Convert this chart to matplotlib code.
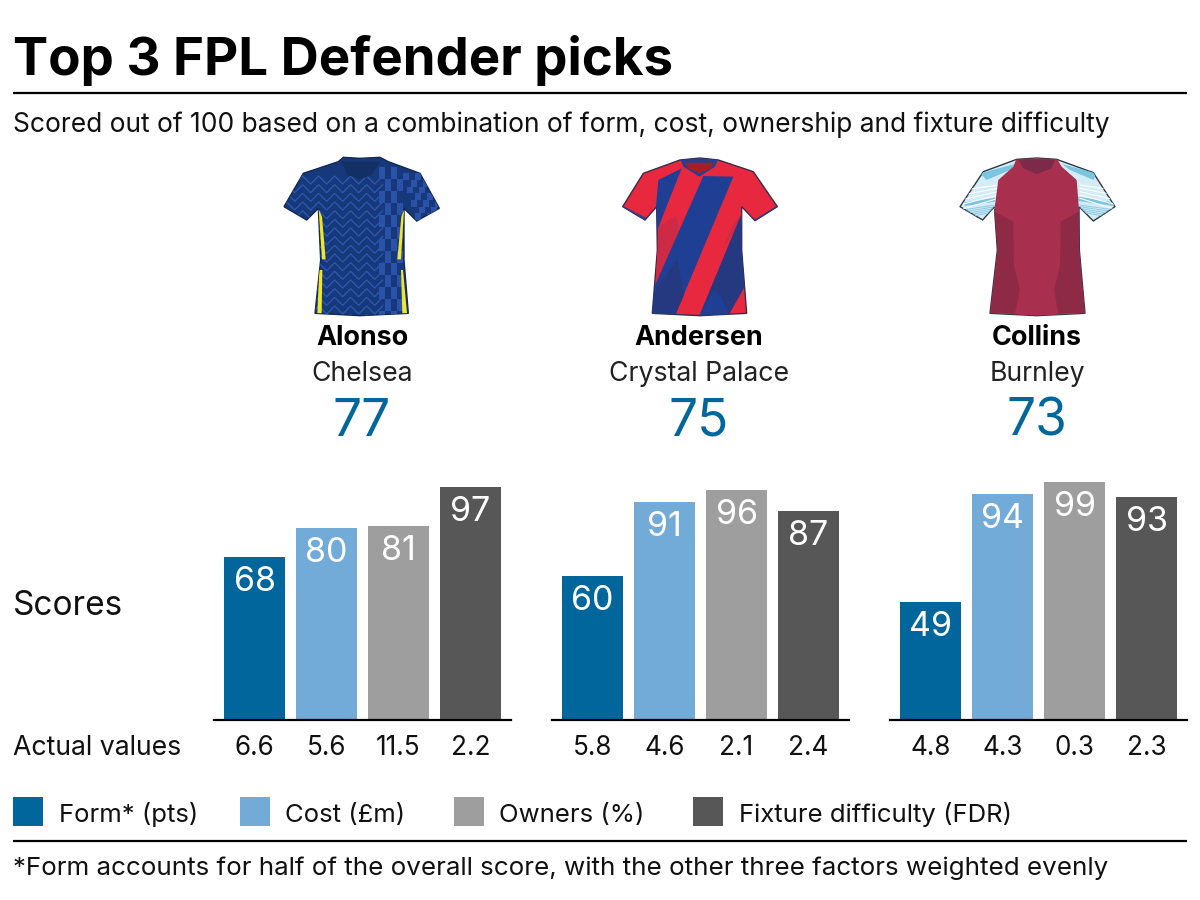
import matplotlib
matplotlib.use("Agg")
import matplotlib.pyplot as plt
from matplotlib.patches import Polygon, Rectangle

plt.rcParams['font.family'] = ['Inter', 'DejaVu Sans']

players = ["Alonso", "Andersen", "Collins"]
clubs = ["Chelsea", "Crystal Palace", "Burnley"]
totals = [77, 75, 73]
factors = ["Form* (pts)", "Cost (£m)", "Owners (%)", "Fixture difficulty (FDR)"]
alonso_scores = [68, 80, 81, 97]
andersen_scores = [60, 91, 96, 87]
collins_scores = [49, 94, 99, 93]
alonso_actual = ["6.6", "5.6", "11.5", "2.2"]
andersen_actual = ["5.8", "4.6", "2.1", "2.4"]
collins_actual = ["4.8", "4.3", "0.3", "2.3"]

colors = ["#00669c", "#73abd8", "#9e9e9e", "#575757"]
blue_text = "#00669c"

fig = plt.figure(figsize=(12, 9), dpi=100)

# overlay in pixel coords for text, rules, shirts
bg = fig.add_axes([0, 0, 1, 1])
bg.set_xlim(0, 1200)
bg.set_ylim(900, 0)
bg.axis('off')

bg.text(13, 75, "Top 3 FPL Defender picks", fontsize=38, fontweight='bold', color='black', va='baseline')
bg.plot([13, 1187], [93, 93], color='black', lw=1.6, solid_capstyle='butt')
bg.text(13, 132, "Scored out of 100 based on a combination of form, cost, ownership and fixture difficulty",
        fontsize=19, color='#111111', va='baseline')
bg.text(13, 615, "Scores", fontsize=24, color='#111111', va='baseline')
bg.text(13, 755, "Actual values", fontsize=19.2, color='#111111', va='baseline')
bg.plot([13, 1187], [841, 841], color='black', lw=1.6, solid_capstyle='butt')
bg.text(13, 875, "*Form accounts for half of the overall score, with the other three factors weighted evenly",
        fontsize=18.7, color='#111111', va='baseline')


def to_px(ox, pts):
    return [(ox + x / 3, 150 + y / 3) for x, y in pts]


def clipped(ox, pts, color, clip, z=3):
    p = Polygon(to_px(ox, pts), closed=True, fc=color, ec='none', zorder=z)
    bg.add_patch(p)
    p.set_clip_path(clip)
    return p


def stripe(ox, pts, color, clip, lw=1.0):
    l, = bg.plot(*zip(*to_px(ox, pts)), color=color, lw=lw, zorder=3)
    l.set_clip_path(clip)


chelsea_shape = [(235, 35), (130, 70), (72, 170), (140, 210), (175, 175), (182, 330), (165, 490),
                 (300, 497), (445, 490), (432, 330), (432, 175), (470, 213), (538, 175), (480, 70),
                 (385, 35), (360, 22), (300, 25), (250, 22)]
palace_shape = [(240, 30), (130, 70), (68, 170), (135, 210), (170, 170), (172, 300), (157, 490),
                (300, 497), (440, 490), (425, 300), (425, 170), (465, 212), (532, 170), (460, 65),
                (355, 30), (300, 24)]
burnley_shape = [(230, 28), (130, 65), (60, 170), (128, 210), (163, 170), (172, 300), (150, 490),
                 (290, 497), (435, 490), (418, 300), (417, 170), (460, 213), (525, 170), (460, 68),
                 (350, 28), (290, 24)]

# Chelsea
ox = 260
body = Polygon(to_px(ox, chelsea_shape), closed=True, fc='#17397c', ec='#12294f', lw=1, zorder=2)
bg.add_patch(body)
for k in range(0, 480, 26):
    xs = list(range(80, 370, 24))
    line = [(x, 90 + k + (12 if i % 2 else -12)) for i, x in enumerate(xs)]
    stripe(ox, line, '#2c59b0', body, 0.9)
for r in range(0, 13):
    for c in range(0, 4):
        if (r + c) % 2 == 0:
            x0 = 358 + c * 18
            y0 = 50 + r * 36
            clipped(ox, [(x0, y0), (x0 + 18, y0), (x0 + 18, y0 + 36), (x0, y0 + 36)], '#2a52a8', body)
for r in range(0, 7):
    for c in range(0, 6):
        if (r + c) % 2 == 0:
            x0 = 430 + c * 18 + r * 6
            y0 = 70 + r * 20
            clipped(ox, [(x0, y0), (x0 + 18, y0), (x0 + 18, y0 + 20), (x0, y0 + 20)], '#2a52a8', body)
clipped(ox, [(176, 178), (186, 200), (197, 328), (186, 328)], '#f0e62a', body, 4)
clipped(ox, [(178, 360), (187, 360), (185, 490), (172, 490)], '#f0e62a', body, 4)
clipped(ox, [(432, 180), (424, 200), (412, 328), (423, 328)], '#f0e62a', body, 4)
clipped(ox, [(423, 360), (429, 360), (441, 490), (427, 490)], '#f0e62a', body, 4)
clipped(ox, [(245, 35), (360, 35), (335, 75), (300, 88), (262, 75)], '#123063', body, 5)

# Crystal Palace
ox = 600
body = Polygon(to_px(ox, palace_shape), closed=True, fc='#e8283f', ec='#3a2a4a', lw=1, zorder=2)
bg.add_patch(body)
clipped(ox, [(175, 230), (230, 195), (240, 270), (165, 440)], '#cf2a45', body)
clipped(ox, [(425, 190), (430, 215), (370, 290), (400, 225)], '#cf2a45', body)
clipped(ox, [(245, 55), (175, 90), (165, 200), (172, 240)], '#1e3f94', body)
clipped(ox, [(310, 78), (400, 80), (225, 497), (150, 497), (150, 440)], '#1e3f94', body)
clipped(ox, [(150, 497), (225, 497), (252, 435), (232, 330), (150, 440)], '#24397f', body)
clipped(ox, [(425, 190), (440, 400), (385, 497), (298, 497)], '#24397f', body)
clipped(ox, [(340, 420), (365, 440), (385, 497), (298, 497)], '#1e3f94', body)
clipped(ox, [(64, 165), (140, 205), (135, 212), (66, 172)], '#24408f', body, 4)
clipped(ox, [(465, 208), (530, 168), (535, 175), (468, 215)], '#24408f', body, 4)
clipped(ox, [(240, 25), (355, 25), (345, 50), (298, 80), (250, 50)], '#24408f', body, 4)
clipped(ox, [(255, 38), (342, 38), (332, 55), (298, 70), (265, 55)], '#a81c24', body, 5)

# Burnley
ox = 940
body = Polygon(to_px(ox, burnley_shape), closed=True, fc='#d4ecf6', ec='#2a3a44', lw=1, zorder=2)
bg.add_patch(body)
clipped(ox, [(120, 70), (225, 42), (210, 60), (140, 90)], '#7cc5e0', body)
clipped(ox, [(70, 158), (165, 143), (165, 155), (75, 168)], '#7cc5e0', body)
clipped(ox, [(470, 70), (365, 42), (390, 60), (460, 90)], '#7cc5e0', body)
clipped(ox, [(525, 158), (415, 140), (415, 153), (520, 168)], '#7cc5e0', body)
for k in range(0, 5):
    stripe(ox, [(70, 120 + k * 14), (175, 105 + k * 10)], '#ffffff', body, 0.8)
    stripe(ox, [(420, 105 + k * 10), (520, 120 + k * 14)], '#ffffff', body, 0.8)
    stripe(ox, [(80, 178 + k * 6), (165, 165 + k * 5)], '#8dcbe4', body, 0.7)
    stripe(ox, [(418, 165 + k * 5), (510, 178 + k * 6)], '#8dcbe4', body, 0.7)
clipped(ox, [(230, 25), (350, 25), (365, 50), (410, 90), (417, 180), (418, 300), (435, 490),
             (290, 497), (150, 490), (172, 300), (163, 180), (175, 90), (220, 50)], '#a82f4d', body)
clipped(ox, [(163, 185), (220, 215), (222, 350), (240, 420), (225, 490), (150, 490), (172, 300)], '#8f2a46', body, 4)
clipped(ox, [(417, 185), (362, 215), (360, 350), (342, 420), (355, 490), (435, 490), (418, 300)], '#8f2a46', body, 4)
clipped(ox, [(235, 28), (345, 28), (335, 55), (290, 72), (250, 55)], '#7d2a4a', body, 5)

name_x = [362, 699, 1037]
for x, name, club, total in zip(name_x, players, clubs, totals):
    bg.text(x, 345, name, fontsize=19.4, fontweight='bold', color='black', ha='center', va='baseline')
    bg.text(x, 381, club, fontsize=19.2, color='#222222', ha='center', va='baseline')
    bg.text(x, 436, str(total), fontsize=37, color=blue_text, ha='center', va='baseline')

# legend
leg_x = [13, 240, 454, 693]
leg_lab = [59, 285, 499, 739]
for x, lx, c, lab in zip(leg_x, leg_lab, colors, factors):
    bg.add_patch(Rectangle((x, 797), 30, 29, fc=c, ec='none'))
    bg.text(lx, 822, lab, fontsize=18.5, color='#111111', va='baseline')

# bar panels
panel_left = [214, 552, 890]
all_scores = [alonso_scores, andersen_scores, collins_scores]
all_actual = [alonso_actual, andersen_actual, collins_actual]
for left, scores, actual in zip(panel_left, all_scores, all_actual):
    ax = fig.add_axes([left / 1200, (900 - 720) / 900, 297 / 1200, 240 / 900])
    ax.patch.set_alpha(0)
    ax.bar(range(4), scores, width=0.85, color=colors)
    ax.set_xlim(-0.5625, 3.5625)
    ax.set_ylim(0, 100)
    ax.set_yticks([])
    ax.set_xticks([])
    for s in ['top', 'left', 'right']:
        ax.spines[s].set_visible(False)
    ax.spines['bottom'].set_linewidth(1.6)
    for i, (v, a) in enumerate(zip(scores, actual)):
        ax.annotate(str(v), (i, v), xytext=(0, -34 * 0.72), textcoords='offset points',
                    ha='center', va='baseline', color='white', fontsize=24.5)
        ax.annotate(a, (i, 0), xytext=(0, -35 * 0.72), textcoords='offset points',
                    ha='center', va='baseline', color='#111111', fontsize=18.8, annotation_clip=False)

fig.savefig("out.png", dpi=100)
